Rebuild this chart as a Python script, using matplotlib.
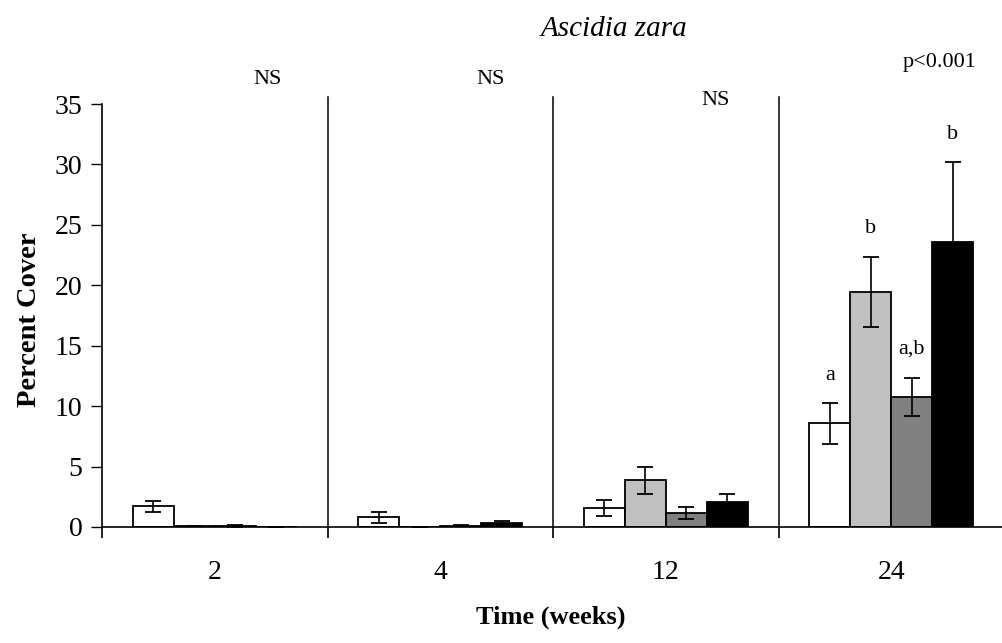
import matplotlib
matplotlib.use("Agg")
import matplotlib.pyplot as plt
import numpy as np

plt.rcParams['font.family'] = ['Liberation Serif', 'DejaVu Serif']

weeks = ['2', '4', '12', '24']
white = [1.7, 0.8, 1.6, 8.6]
white_err = [0.45, 0.45, 0.65, 1.7]
light = [0.08, 0.02, 3.85, 19.45]
light_err = [0.02, 0.02, 1.1, 2.9]
dark = [0.1, 0.12, 1.15, 10.75]
dark_err = [0.1, 0.02, 0.5, 1.6]
black = [0.02, 0.35, 2.1, 23.6]
black_err = [0.02, 0.12, 0.65, 6.6]

series = [(white, white_err, 'white'), (light, light_err, '#c0c0c0'),
          (dark, dark_err, '#808080'), (black, black_err, 'black')]

group_notes = ['NS', 'NS', 'NS', 'p<0.001']
letters = ['a', 'b', 'a,b', 'b']
letter_y = [12.5, 24.7, 14.7, 32.5]

fig = plt.figure(figsize=(10.03, 6.43), dpi=100)
ax = fig.add_axes([102/1003, 116/643, 902/1003, 423/643])

x = np.arange(len(weeks))
w = 0.182
for i, (vals, errs, col) in enumerate(series):
    pos = x + (i - 1.5) * w
    ax.bar(pos, vals, width=w, color=col, edgecolor='black', linewidth=1.3, zorder=2)
    ax.errorbar(pos, vals, yerr=errs, fmt='none', ecolor='black', elinewidth=1.2,
                capsize=5.5, capthick=1.3, zorder=3)

ax.set_xlim(-0.5, 3.5)
ax.set_ylim(0, 35)
ax.set_yticks(np.arange(0, 36, 5))
ax.tick_params(axis='y', direction='out', length=8, width=1, labelsize=20, pad=6)
ax.set_xticks([-0.5, 0.5, 1.5, 2.5])
ax.set_xticklabels([])
ax.tick_params(axis='x', which='major', direction='out', length=8, width=1.2)
ax.set_xticks(x, minor=True)
ax.set_xticklabels(weeks, minor=True)
ax.tick_params(axis='x', which='minor', length=0, labelsize=20, pad=24)

for s in ['top', 'right']:
    ax.spines[s].set_visible(False)
ax.spines['left'].set_linewidth(1.2)
ax.spines['bottom'].set_linewidth(1.2)

for b in [0.5, 1.5, 2.5]:
    ax.plot([b, b], [0, 35.6], color='black', lw=1.1, clip_on=False, zorder=1)

note_x = [0.236, 1.225, 2.223, 3.216]
note_y = [37.0, 37.0, 35.3, 38.4]
for nx, ny, t in zip(note_x, note_y, group_notes):
    ax.text(nx, ny, t, ha='center', va='center', fontsize=16)

for i, (t, ly) in enumerate(zip(letters, letter_y)):
    ax.text(3 + (i - 1.5) * w, ly, t, ha='center', va='center', fontsize=16)

fig.text(614/1003, 1 - 29/643, 'Ascidia zara', ha='center', va='center',
         fontsize=21, style='italic')
fig.text(551/1003, 1 - 617/643, 'Time (weeks)', ha='center', va='center',
         fontsize=19, weight='bold')
fig.text(30/1003, 1 - 320/643, 'Percent Cover', ha='center', va='center',
         fontsize=20.5, weight='bold', rotation=90)

fig.savefig('out.png', dpi=100)
